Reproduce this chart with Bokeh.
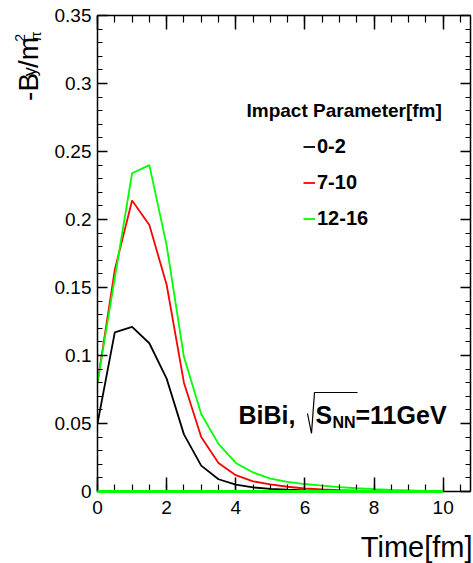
import math
from bokeh.plotting import figure
from bokeh.layouts import row
from bokeh.models import (Range1d, FixedTicker, LinearAxis, Label, Legend, LegendItem,
                          CustomJSTickFormatter)
from bokeh.embed import file_html
from bokeh.resources import INLINE

# ---------------- data ----------------
time = [0, 0.5, 1, 1.5, 2, 2.5, 3, 3.5, 4, 4.5, 5, 5.5, 6, 6.5, 7, 7.5, 8, 8.5, 9, 9.5, 10]
b_0_2 = [0.050, 0.117, 0.121, 0.109, 0.083, 0.042, 0.019, 0.009, 0.005, 0.003, 0.002,
         0.0013, 0.0008, 0.0005, 0.0003, 0.0002, 0.0001, 0.0001, 0.0, 0.0, 0.0]
b_7_10 = [0.080, 0.163, 0.214, 0.196, 0.152, 0.080, 0.040, 0.021, 0.012, 0.0075, 0.0052,
          0.0035, 0.0022, 0.0015, 0.001, 0.0007, 0.0005, 0.0003, 0.0002, 0.0001, 0.0]
b_12_16 = [0.080, 0.157, 0.234, 0.240, 0.181, 0.099, 0.057, 0.035, 0.021, 0.014, 0.0095,
           0.007, 0.0055, 0.0043, 0.0032, 0.0024, 0.0017, 0.0012, 0.0008, 0.0004, 0.0002]
baseline_time = [0, 10]
baseline_val = [0, 0]

series_labels = ["0-2", "7-10", "12-16"]
series_colors = ["#000000", "#ff0000", "#00ff00"]

x_ticks = [0, 2, 4, 6, 8, 10]
x_tick_labels = ["0", "2", "4", "6", "8", "10"]
y_ticks = [0, 0.05, 0.1, 0.15, 0.2, 0.25, 0.3, 0.35]
y_tick_labels = ["0", "0.05", "0.1", "0.15", "0.2", "0.25", "0.3", "0.35"]
x_minor = [i * 0.5 for i in range(22)]
y_minor = [i * 0.01 for i in range(36)]

X0, X1 = 0.0, 10.79
Y0, Y1 = 0.0, 0.35

# geometry (canvas pixels of the whole page)
W, H = 473, 563
TW = 50                       # width of the strip holding the y-axis title
FL, FR, FT, FB = 97, 470, 15, 491
FONT = "Liberation Sans"
K = 0.4                       # baseline correction factor


def dx(px):
    return X0 + (px - FL) * (X1 - X0) / (FR - FL)


def dy(py):
    return Y0 + (FB - py) * (Y1 - Y0) / (FB - FT)


# ---------------- main figure ----------------
p = figure(width=W - TW, height=H, x_range=Range1d(X0, X1), y_range=Range1d(Y0, Y1),
           output_backend="svg", toolbar_location=None,
           min_border_left=FL - TW, min_border_right=W - FR,
           min_border_top=FT, min_border_bottom=H - FB)
p.grid.visible = False
p.outline_line_color = None
p.background_fill_color = "white"
p.border_fill_color = "white"

xt = FixedTicker(ticks=x_ticks, minor_ticks=x_minor)
yt = FixedTicker(ticks=y_ticks, minor_ticks=y_minor)


def style_axis(ax, tick_major, tick_minor, show_labels, standoff):
    ax.axis_line_color = "black"
    ax.axis_line_width = 1.5
    ax.major_tick_line_color = "black"
    ax.major_tick_line_width = 1.5
    ax.minor_tick_line_color = "black"
    ax.minor_tick_line_width = 1.2
    ax.major_tick_in = tick_major
    ax.major_tick_out = 0
    ax.minor_tick_in = tick_minor
    ax.minor_tick_out = 0
    ax.major_label_text_font = FONT
    ax.major_label_text_font_size = "19px"
    ax.major_label_text_color = "black"
    ax.major_label_standoff = standoff
    if not show_labels:
        ax.formatter = CustomJSTickFormatter(code="return ''")
        ax.major_label_standoff = 0


xa = p.xaxis[0]
xa.ticker = xt
xa.major_label_overrides = dict(zip(x_ticks, x_tick_labels))
style_axis(xa, 14, 7, True, 9)

ya = p.yaxis[0]
ya.ticker = yt
ya.major_label_overrides = dict(zip(y_ticks, y_tick_labels))
style_axis(ya, 10, 5, True, 6)

top = LinearAxis(ticker=xt)
style_axis(top, 14, 7, False, 0)
p.add_layout(top, "above")
right = LinearAxis(ticker=yt)
style_axis(right, 10, 5, False, 0)
p.add_layout(right, "right")

# ---------------- data lines ----------------
renderers = []
for vals, col in zip([b_0_2, b_7_10, b_12_16], series_colors):
    r = p.line(time, vals, line_color=col, line_width=1.8)
    renderers.append(r)
p.line(baseline_time, baseline_val, line_color=series_colors[2], line_width=3, level="overlay")

# ---------------- legend ----------------
legend = Legend(items=[LegendItem(label=lab, renderers=[r]) for lab, r in zip(series_labels, renderers)],
                location=(303 - FL, FB - 230), orientation="vertical",
                border_line_color=None, background_fill_alpha=0,
                padding=0, margin=0, glyph_width=12, glyph_height=23,
                label_height=23, label_standoff=2, spacing=13,
                label_text_font=FONT, label_text_font_style="bold",
                label_text_font_size="20px", label_text_color="black")
p.add_layout(legend)


def make_label(x, y, txt, size, bold=False, align="left", angle=0.0):
    return Label(x=x, y=y, text=txt, text_font=FONT,
                 text_font_style="bold" if bold else "normal",
                 text_font_size="%dpx" % size, text_color="black",
                 text_align=align, text_baseline="alphabetic",
                 angle=angle, angle_units="rad")


def add_text(px, py, txt, size, bold=False, align="left"):
    # px, py: canvas position of the text's alphabetic baseline start
    p.add_layout(make_label(dx(px), dy(py - K * size), txt, size, bold, align))


add_text(246, 118, "Impact Parameter[fm]", 19, bold=True)

# BiBi, sqrt(S_NN)=11GeV
add_text(238, 424, "BiBi,", 25, bold=True)
add_text(315, 424, "S", 25, bold=True)
add_text(332, 428, "NN", 16, bold=True)
add_text(355, 424, "=11GeV", 25, bold=True)
rad_px = [307, 311, 314, 357]
rad_py = [413, 433, 392, 392]
p.line([dx(v) for v in rad_px], [dy(v) for v in rad_py], line_color="black", line_width=1.2,
       level="overlay")

# x-axis title, placed in the bottom border panel so that it is not clipped
p.add_layout(make_label(dx(472), dy(558 - K * 29), "Time[fm]", 29, align="right"), "below")

# ---------------- strip with the y-axis title ----------------
t = figure(width=TW, height=H, x_range=Range1d(0, TW), y_range=Range1d(H, 0),
           output_backend="svg", toolbar_location=None, min_border=0,
           x_axis_type=None, y_axis_type=None)
t.grid.visible = False
t.outline_line_color = None
t.background_fill_color = "white"
t.border_fill_color = "white"

ang = math.pi / 2


def add_vtext(bx, sy, txt, size):
    # bx: canvas x of the baseline; sy: canvas y where the text starts (reads upwards)
    t.add_layout(make_label(bx - K * size, sy, txt, size, angle=ang))


add_vtext(39, 101, "-B", 28)
add_vtext(37, 72, "y", 18)
add_vtext(39, 62, "/m", 28)
add_vtext(41, 31, "π", 15)
add_vtext(25, 31, "2", 14)

layout = row(t, p, spacing=0)
open("out.html", "w").write(file_html(layout, INLINE))
